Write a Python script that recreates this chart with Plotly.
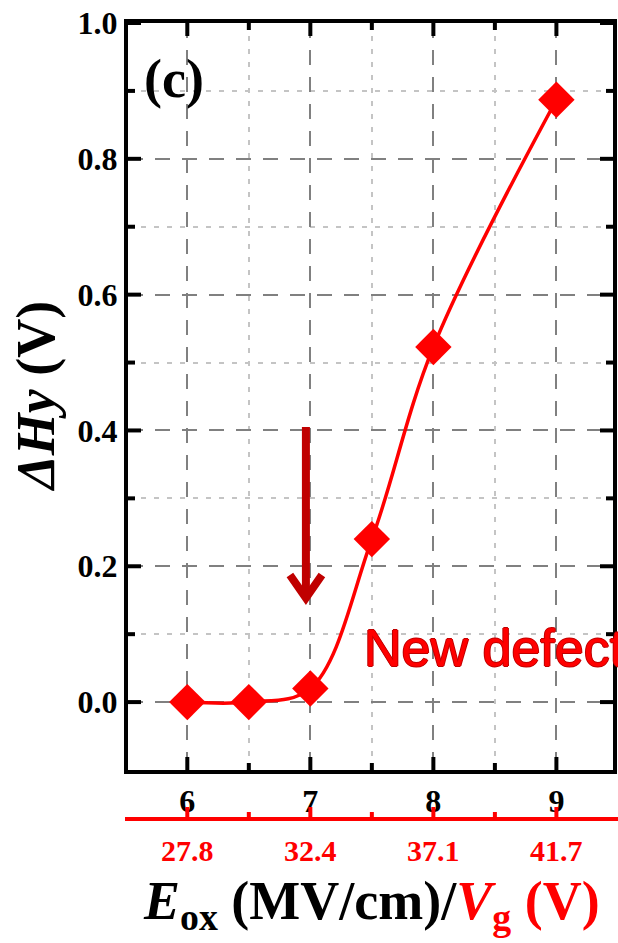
import plotly.graph_objects as go

# Oxide field (MV/cm) and measured hump shift ΔHy (V)
E_OX = [6.0, 6.5, 7.0, 7.5, 8.0, 9.0]
DELTA_HY = [0.0, 0.0, 0.02, 0.24, 0.523, 0.887]

# Tick positions on the E_ox axis and the matching gate voltages
E_TICKS = [6, 7, 8, 9]
E_MINOR = [6.5, 7.5, 8.5]
VG_LABELS = ["27.8", "32.4", "37.1", "41.7"]

# Tick positions on the ΔHy axis
Y_TICKS = [0.0, 0.2, 0.4, 0.6, 0.8, 1.0]
Y_MINOR = [0.1, 0.3, 0.5, 0.7, 0.9]

# Arrow marking the onset of new defect generation (x, from-y, to-y)
ARROW_X = 6.964
ARROW_FROM = 0.405
ARROW_TO = 0.14

RED = "#ff0000"
DARK_RED = "#c00000"
SERIF = "Liberation Serif"
SANS = "Liberation Sans"
X_RANGE = [5.518, 9.46]
Y_RANGE = [-0.1, 1.0]

W, H = 618, 943
M_L, M_R, M_T, M_B = 128, 5, 23, 124
PAPER_W = W - M_L - M_R          # 485 px
PAPER_H = H - M_T - M_B          # 796 px
DOM_BOTTOM = 49 / PAPER_H        # plot frame sits 49 px above the Vg axis
MAJOR_LEN, MINOR_LEN = 13, 7

fig = go.Figure()

fig.add_trace(go.Scatter(
    x=E_OX, y=DELTA_HY,
    mode="lines+markers",
    line=dict(color=RED, width=3.5, shape="spline", smoothing=1.0),
    marker=dict(symbol="diamond", size=28, color=RED),
    showlegend=False, hoverinfo="x+y",
))

tick_font = dict(family=SERIF, size=32, color="black", weight="bold")

major_grid = dict(showgrid=True, gridcolor="#808080", gridwidth=2, griddash="15px,12px")
minor_grid = dict(showgrid=True, gridcolor="#c4c4c4", gridwidth=2, griddash="5px,8px")
frame = dict(showline=True, linecolor="black", linewidth=4, mirror=True,
             ticks="", tickfont=tick_font, zeroline=False)

fig.update_layout(
    template="none",
    width=W, height=H,
    margin=dict(l=M_L, r=M_R, t=M_T, b=M_B),
    paper_bgcolor="white", plot_bgcolor="white",
    xaxis=dict(range=X_RANGE, tickvals=E_TICKS, **frame, **major_grid,
               minor=dict(tickvals=E_MINOR, ticks="", **minor_grid)),
    yaxis=dict(domain=[DOM_BOTTOM, 1], range=Y_RANGE, tickvals=Y_TICKS,
               tickformat=".1f", **frame, **major_grid,
               minor=dict(tickvals=Y_MINOR, ticks="", **minor_grid)),
)


def tick(axis, value, anchor, length, color="black"):
    """inward tick mark of given pixel length on one frame side"""
    if axis == "x":
        fig.add_shape(type="line", xref="x", yref="y", ysizemode="pixel",
                      yanchor=anchor, x0=value, x1=value, y0=0, y1=length,
                      line=dict(color=color, width=4))
    else:
        fig.add_shape(type="line", xref="x", yref="y", xsizemode="pixel",
                      xanchor=anchor, y0=value, y1=value, x0=0, x1=length,
                      line=dict(color=color, width=4))


# frame ticks on all four sides
for vals, length in [(E_TICKS, MAJOR_LEN), (E_MINOR, MINOR_LEN)]:
    for v in vals:
        tick("x", v, Y_RANGE[0], length)
        tick("x", v, Y_RANGE[1], -length)
for vals, length in [(Y_TICKS, MAJOR_LEN), (Y_MINOR, MINOR_LEN)]:
    for v in vals:
        tick("y", v, X_RANGE[0], length)
        tick("y", v, X_RANGE[1], -length)

# secondary V_g scale under the frame: red baseline, upward ticks, labels
fig.add_shape(type="line", xref="paper", yref="paper",
              x0=-3 / PAPER_W, x1=(W - M_L) / PAPER_W, y0=0, y1=0,
              line=dict(color=RED, width=4))
for vals, length in [(E_TICKS, 12), (E_MINOR, 7)]:
    for v in vals:
        fig.add_shape(type="line", xref="x", yref="paper",
                      ysizemode="pixel", yanchor=0, x0=v, x1=v, y0=0, y1=length,
                      line=dict(color=RED, width=4))

annotations = [
    dict(text=lab, xref="x", yref="paper", x=v, y=-31 / PAPER_H,
         xanchor="center", yanchor="middle", showarrow=False,
         font=dict(family=SERIF, size=30, color=RED, weight="bold"))
    for v, lab in zip(E_TICKS, VG_LABELS)
]

# arrow: shaft plus open chevron head
fig.add_shape(type="line", xref="x", yref="y",
              x0=ARROW_X, x1=ARROW_X, y0=ARROW_FROM, y1=ARROW_TO + 0.022,
              line=dict(color=DARK_RED, width=8))
fig.add_shape(type="path", xref="x", yref="y",
              xsizemode="pixel", ysizemode="pixel",
              xanchor=ARROW_X, yanchor=ARROW_TO,
              path="M -16,32 L 0,9 L 16,32",
              line=dict(color=DARK_RED, width=8))

annotations += [
    dict(text="(c)", xref="paper", yref="paper", x=0.095, y=0.93,
         xanchor="center", yanchor="middle", showarrow=False,
         font=dict(family=SERIF, size=54, color="black", weight="bold")),
    dict(text="New defect", xref="x", yref="y", x=7.42, y=0.08,
         xanchor="left", yanchor="middle", showarrow=False,
         font=dict(family=SANS, size=52, color=RED,
                   shadow="1px 0 0 #c00000, -1px 0 0 #c00000, 0 1px 0 #c00000, 0 -1px 0 #c00000")),
    dict(text="<i>ΔHy</i> (V)", xref="paper", yref="paper", x=-0.188, y=0.531,
         xanchor="center", yanchor="middle", textangle=-90, showarrow=False,
         font=dict(family=SERIF, size=54, color="black", weight="bold")),
    dict(text="<i>E</i><sub>ox</sub> (MV/cm)/<span style='color:#ff0000'><i>V</i><sub>g</sub> (V)</span>",
         xref="paper", yref="paper", x=0.503, y=-0.1075,
         xanchor="center", yanchor="middle", showarrow=False,
         font=dict(family=SERIF, size=54, color="black", weight="bold")),
]
fig.update_layout(annotations=annotations)

fig.write_html("out.html")
